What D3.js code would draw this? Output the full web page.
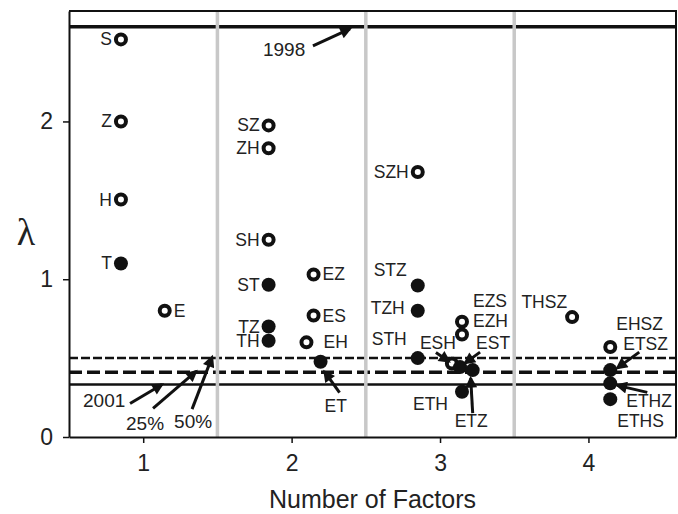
<!DOCTYPE html>
<html>
<head>
<meta charset="utf-8">
<script src="https://cdn.jsdelivr.net/npm/d3@7"></script>
<style>
  body { margin: 0; background: #fff; }
  svg text { font-family: "Liberation Sans", Arial, Helvetica, sans-serif; fill: #222; }
</style>
</head>
<body>
<div id="chart"></div>
<script>
  // model names, horizontal position (factor count + jitter), lambda, filled marker?
  var pointNames = ["S", "Z", "H", "T", "E",
                    "SZ", "ZH", "SH", "ST", "TZ", "TH", "EZ", "ES", "EH", "ET",
                    "SZH", "STZ", "TZH", "STH", "EZS", "EZH", "ESH", "EST", "ETZ", "ETH",
                    "THSZ", "EHSZ", "ETSZ", "ETHZ", "ETHS"];
  var pointX = [0.85, 0.85, 0.85, 0.85, 1.145,
                1.845, 1.845, 1.845, 1.845, 1.845, 1.845, 2.148, 2.148, 2.10, 2.195,
                2.85, 2.85, 2.85, 2.85, 3.148, 3.148, 3.08, 3.135, 3.22, 3.148,
                3.89, 4.147, 4.147, 4.147, 4.147];
  var pointLambda = [2.52, 2.00, 1.505, 1.10, 0.80,
                     1.975, 1.83, 1.25, 0.965, 0.70, 0.61, 1.03, 0.77, 0.60, 0.477,
                     1.68, 0.96, 0.80, 0.50, 0.73, 0.65, 0.466, 0.443, 0.424, 0.287,
                     0.76, 0.57, 0.424, 0.34, 0.24];
  var pointFilled = [0, 0, 0, 1, 0,
                     0, 0, 0, 1, 1, 1, 0, 0, 0, 1,
                     0, 1, 1, 1, 0, 0, 0, 1, 1, 1,
                     0, 0, 1, 1, 1];

  var refNames = ["1998", "2001", "25%", "50%"];
  var refValues = [2.60, 0.333, 0.41, 0.50];
  var refArrowX = [2.393, 1.127, 1.356, 1.464];

  var xTicks = [1, 2, 3, 4];
  var yTicks = [0, 1, 2];
  var dividers = [1.5, 2.5, 3.5];

  var width = 678, height = 514;
  var margin = { top: 11, right: 2, bottom: 77, left: 69 };

  // label placement: [anchor, dx, dy, arrow tail dx, dy, arrow tip dx, dy]
  var L = ["end", -9, 6], R = ["start", 9, 6];
  var labelLayout = {
    S: L, Z: L, H: L, T: L, E: R,
    SZ: L, ZH: L, SH: L, ST: L, TZ: L, TH: L, EZ: R, ES: R,
    EH: ["start", 17, 6],
    ET: ["start", 4, 50, 19, 31, 4, 10],
    SZH: L,
    STZ: ["end", -11, -10], TZH: ["end", -13, 3], STH: ["end", -11, -13],
    EZS: ["start", 11, -15], EZH: ["start", 11, -7],
    ESH: ["start", -32, -14, -16, -11, -3, -2],
    EST: ["start", 16, -18, 20, -15, 5, -4],
    ETZ: ["start", -18, 57, 0, 43, -2, 8],
    ETH: ["start", -49, 18],
    THSZ: ["end", -5, -9], EHSZ: ["start", 6, -17],
    ETSZ: ["start", 13, -20, 29, -18, 7, -2],
    ETHZ: ["start", 16, 24, 37, 9, 7, 2],
    ETHS: ["start", 7, 28]
  };
  // reference line annotation: [label dx, dy, tail dx, dy, tip dy] relative to arrow x / line y
  var refLayout = [[-87, 29, -37, 19, 2], [-79, 23, -32, 19, 0], [-70, 58, -43, 36, -1], [-38, 70, -20, 51, -1]];
  var refStyle = [["3.5", null], ["2.5", null], ["3.5", "13,5"], ["2.5", "9,3"]];

  var points = pointNames.map(function(n, i) {
    return { name: n, x: pointX[i], y: pointLambda[i], filled: pointFilled[i] };
  });

  var svg = d3.select("#chart").append("svg")
      .attr("width", width).attr("height", height);

  svg.append("defs").append("marker")
      .attr("id", "arrow")
      .attr("viewBox", "0 -5 10 10")
      .attr("refX", 8).attr("refY", 0)
      .attr("markerUnits", "userSpaceOnUse")
      .attr("markerWidth", 14).attr("markerHeight", 12)
      .attr("orient", "auto")
      .append("path").attr("d", "M0,-5L10,0L0,5Z").attr("fill", "#111");

  var xScale = d3.scaleLinear().domain([0.5, 4.59]).range([margin.left, width - margin.right]);
  var yScale = d3.scaleLinear().domain([0, 2.7]).range([height - margin.bottom, margin.top]);

  // reference lines
  svg.append("g").selectAll("line")
    .data(refValues).enter().append("line")
      .attr("x1", xScale(0.5)).attr("x2", xScale(4.59))
      .attr("y1", function(d) { return yScale(d) })
      .attr("y2", function(d) { return yScale(d) })
      .attr("stroke", "#111")
      .attr("stroke-width", function(d, i) { return refStyle[i][0] })
      .attr("stroke-dasharray", function(d, i) { return refStyle[i][1] });

  // grey dividers between factor groups
  svg.append("g").selectAll("line")
    .data(dividers).enter().append("line")
      .attr("x1", function(d) { return xScale(d) }).attr("x2", function(d) { return xScale(d) })
      .attr("y1", yScale(0)).attr("y2", yScale(2.7))
      .attr("stroke", "#c8c8c8").attr("stroke-width", 3.5);

  // frame top and right
  svg.append("path")
    .attr("d", "M" + xScale(0.5) + "," + yScale(2.7) + "H" + xScale(4.59) + "V" + yScale(0))
    .attr("fill", "none").attr("stroke", "#111").attr("stroke-width", 2);

  // axes
  var axisx = d3.axisBottom(xScale).tickValues(xTicks).tickFormat(d3.format("d"))
                .tickSize(6).tickSizeOuter(0).tickPadding(12);
  var axisy = d3.axisLeft(yScale).tickValues(yTicks).tickFormat(d3.format("d"))
                .tickSize(6).tickSizeOuter(0).tickPadding(10);

  var gx = svg.append("g")
    .attr("transform", "translate(0," + yScale(0) + ")")
    .call(axisx);
  var gy = svg.append("g")
    .attr("transform", "translate(" + margin.left + ",0)")
    .call(axisy);
  [gx, gy].forEach(function(g) {
    g.select(".domain").attr("stroke", "#111").attr("stroke-width", 2);
    g.selectAll(".tick line").attr("stroke", "#111").attr("stroke-width", 1.5);
    g.selectAll(".tick text").attr("font-size", "23px").attr("fill", "#222")
      .attr("font-family", "Liberation Sans, Arial, sans-serif");
  });

  svg.append("text")
    .attr("x", (xScale(0.5) + xScale(4.59)) / 2)
    .attr("y", 508)
    .attr("text-anchor", "middle")
    .attr("font-size", "25px")
    .text("Number of Factors");

  svg.append("text")
    .attr("x", 26).attr("y", 245)
    .attr("text-anchor", "middle")
    .attr("font-size", "38px")
    .style("font-family", "Liberation Serif, Times New Roman, serif")
    .text("λ");

  // reference line annotations
  var refG = svg.append("g");
  refValues.forEach(function(v, i) {
    var ax = xScale(refArrowX[i]), ly = yScale(v), lay = refLayout[i];
    refG.append("line")
      .attr("x1", ax + lay[2]).attr("y1", ly + lay[3])
      .attr("x2", ax).attr("y2", ly + lay[4])
      .attr("stroke", "#111").attr("stroke-width", 3)
      .attr("marker-end", "url(#arrow)");
    refG.append("text")
      .attr("x", ax + lay[0]).attr("y", ly + lay[1])
      .attr("font-size", "19px")
      .text(refNames[i]);
  });

  // points
  var ptG = svg.append("g");
  ptG.selectAll("circle.open")
    .data(points.filter(function(d) { return !d.filled }))
    .enter().append("circle")
      .attr("class", "open")
      .attr("cx", function(d) { return xScale(d.x) })
      .attr("cy", function(d) { return yScale(d.y) })
      .attr("r", 5)
      .attr("fill", "#fff").attr("stroke", "#111").attr("stroke-width", 4);
  ptG.selectAll("circle.filled")
    .data(points.filter(function(d) { return d.filled }))
    .enter().append("circle")
      .attr("class", "filled")
      .attr("cx", function(d) { return xScale(d.x) })
      .attr("cy", function(d) { return yScale(d.y) })
      .attr("r", 7)
      .attr("fill", "#111");

  // arrows from labels to points
  ptG.selectAll("line.lab")
    .data(points.filter(function(d) { return labelLayout[d.name].length > 3 }))
    .enter().append("line")
      .attr("class", "lab")
      .attr("x1", function(d) { return xScale(d.x) + labelLayout[d.name][3] })
      .attr("y1", function(d) { return yScale(d.y) + labelLayout[d.name][4] })
      .attr("x2", function(d) { return xScale(d.x) + labelLayout[d.name][5] })
      .attr("y2", function(d) { return yScale(d.y) + labelLayout[d.name][6] })
      .attr("stroke", "#111").attr("stroke-width", 3)
      .attr("marker-end", "url(#arrow)");

  ptG.selectAll("text")
    .data(points).enter().append("text")
      .attr("x", function(d) { return xScale(d.x) + labelLayout[d.name][1] })
      .attr("y", function(d) { return yScale(d.y) + labelLayout[d.name][2] })
      .attr("text-anchor", function(d) { return labelLayout[d.name][0] })
      .attr("font-size", "17.5px")
      .text(function(d) { return d.name });
</script>
</body>
</html>
